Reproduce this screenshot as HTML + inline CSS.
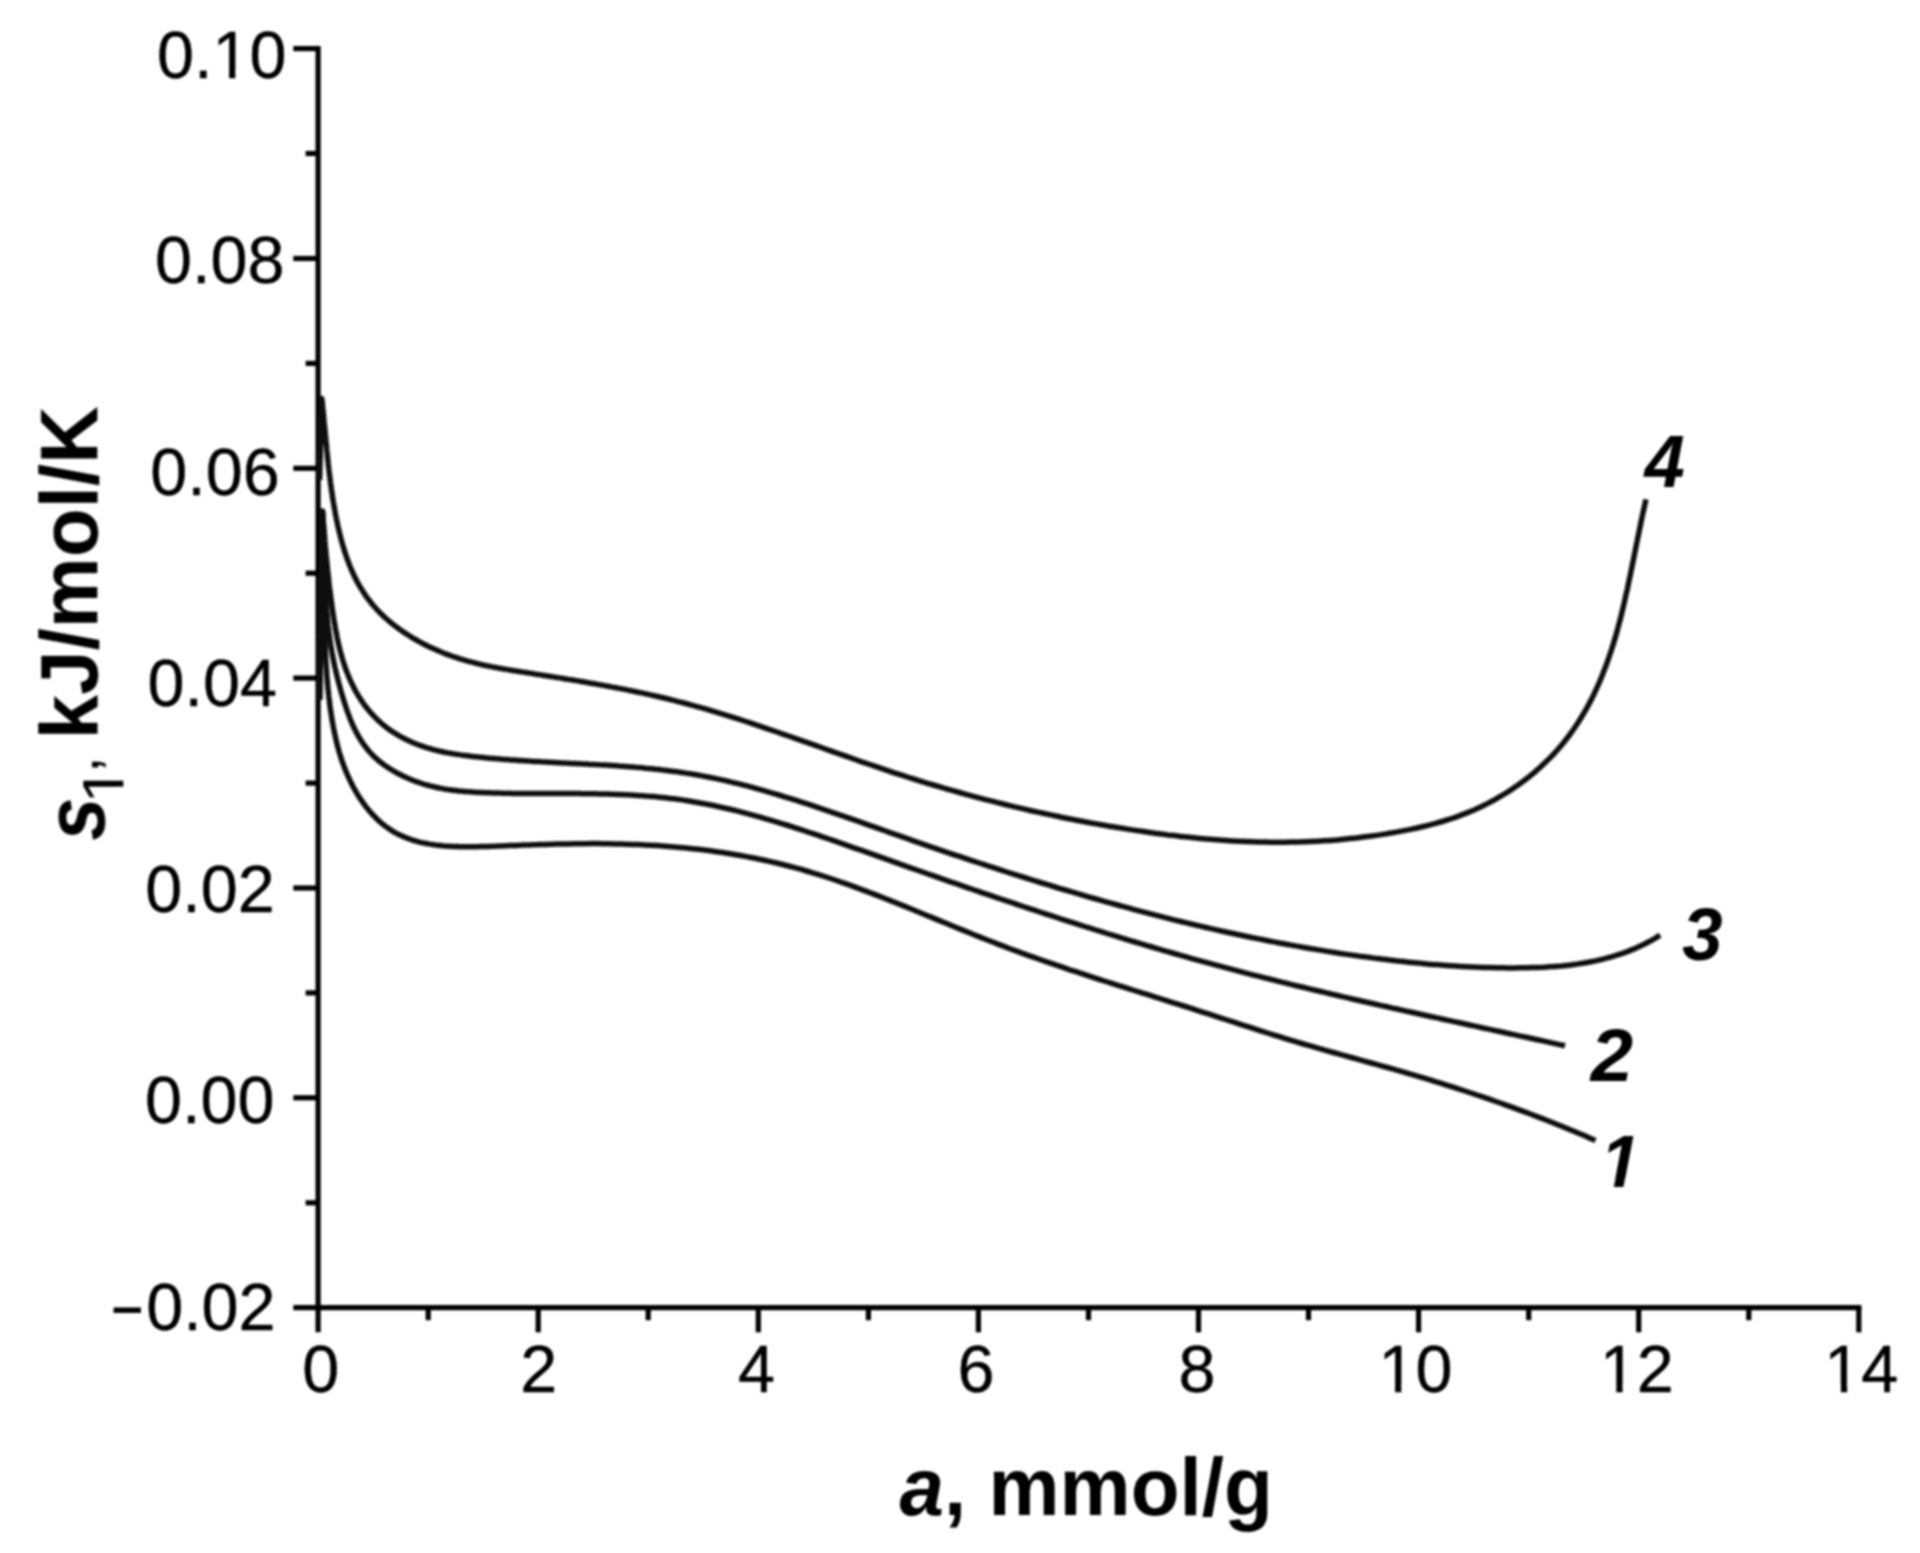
<!DOCTYPE html>
<html lang="en"><head><meta charset="utf-8"><title>s1 vs a</title>
<style>
html,body{margin:0;padding:0;background:#fff;}
body{width:1920px;height:1553px;overflow:hidden;}
svg{display:block;}
text{font-family:"Liberation Sans",sans-serif;fill:#000;font-kerning:none;white-space:pre;}
.tk{font-size:66.5px;stroke:#000;stroke-width:.4px;}
.lb{font-size:72.5px;font-weight:bold;font-style:italic;}
.ax{font-weight:bold;}
.it{font-style:italic;}
.rg{font-weight:normal;}
</style></head><body>
<svg width="1920" height="1553" viewBox="0 0 1920 1553">
<defs><clipPath id="c1y" clipPathUnits="userSpaceOnUse"><path clip-rule="evenodd" d="M-50 -50H2000V1700H-50Z M214.59 70.53H229.05V81.00H214.59Z M235.33 70.53H249.27V81.00H235.33Z"/></clipPath><clipPath id="c1x10" clipPathUnits="userSpaceOnUse"><path clip-rule="evenodd" d="M-50 -50H2000V1700H-50Z M1380.58 1384.83H1395.04V1395.30H1380.58Z M1401.32 1384.83H1415.25V1395.30H1401.32Z"/></clipPath><clipPath id="c1x12" clipPathUnits="userSpaceOnUse"><path clip-rule="evenodd" d="M-50 -50H2000V1700H-50Z M1601.83 1384.83H1616.29V1395.30H1601.83Z M1622.57 1384.83H1636.50V1395.30H1622.57Z"/></clipPath><clipPath id="c1x14" clipPathUnits="userSpaceOnUse"><path clip-rule="evenodd" d="M-50 -50H2000V1700H-50Z M1826.43 1384.83H1840.89V1395.30H1826.43Z M1847.17 1384.83H1861.10V1395.30H1847.17Z"/></clipPath><clipPath id="c1l" clipPathUnits="userSpaceOnUse"><path clip-rule="evenodd" d="M-200 -200H300V200H-200Z M-2.12 2.83 L-2.12 -8.35 L15.26 -8.35 L13.10 2.83Z M22.62 2.83 L24.78 -8.35 L38.94 -8.35 L38.94 2.83Z"/></clipPath><clipPath id="c1s" clipPathUnits="userSpaceOnUse"><path clip-rule="evenodd" d="M-100 -200H700V200H-100Z M1.20 -6.12H13.88V3.00H1.20Z M18.76 -6.12H31.00V3.00H18.76Z"/></clipPath><filter id="soft" filterUnits="userSpaceOnUse" x="0" y="0" width="1920" height="1553"><feGaussianBlur stdDeviation="0.8"/></filter></defs>
<rect width="1920" height="1553" fill="#fff"/>
<g filter="url(#soft)">
<g stroke="#000" stroke-width="5.2" fill="none" stroke-linecap="butt">
<path d="M318.1 46.0 V1332.3"/>
<path d="M293.3 1307.7 H1861.4"/>
<path d="M305.6 1202.8 H318.1"/>
<path d="M293.3 1097.8 H318.1"/>
<path d="M305.6 992.9 H318.1"/>
<path d="M293.3 888.0 H318.1"/>
<path d="M305.6 783.1 H318.1"/>
<path d="M293.3 678.1 H318.1"/>
<path d="M305.6 573.2 H318.1"/>
<path d="M293.3 468.3 H318.1"/>
<path d="M305.6 363.4 H318.1"/>
<path d="M293.3 258.5 H318.1"/>
<path d="M305.6 153.5 H318.1"/>
<path d="M293.3 48.6 H318.1"/>
<path d="M428.2 1307.7 V1320.2"/>
<path d="M538.2 1307.7 V1332.3"/>
<path d="M648.2 1307.7 V1320.2"/>
<path d="M758.3 1307.7 V1332.3"/>
<path d="M868.4 1307.7 V1320.2"/>
<path d="M978.4 1307.7 V1332.3"/>
<path d="M1088.5 1307.7 V1320.2"/>
<path d="M1198.5 1307.7 V1332.3"/>
<path d="M1308.5 1307.7 V1320.2"/>
<path d="M1418.6 1307.7 V1332.3"/>
<path d="M1528.7 1307.7 V1320.2"/>
<path d="M1638.7 1307.7 V1332.3"/>
<path d="M1748.8 1307.7 V1320.2"/>
<path d="M1858.8 1307.7 V1332.3"/>
</g>
<text class="tk" x="286.5" y="78.0" text-anchor="end" clip-path="url(#c1y)">0.10</text>
<text class="tk" x="284.4" y="283.2" text-anchor="end">0.08</text>
<text class="tk" x="279.7" y="494.5" text-anchor="end">0.06</text>
<text class="tk" x="276.9" y="705.8" text-anchor="end">0.04</text>
<text class="tk" x="274.7" y="911.5" text-anchor="end">0.02</text>
<text class="tk" x="274.5" y="1123.4" text-anchor="end">0.00</text>
<text class="tk" transform="translate(111.26 1334.3) scale(0.836 1.08)">−</text>
<text class="tk" x="275.6" y="1330.4" text-anchor="end">0.02</text>
<text class="tk" x="320.7" y="1392.3" text-anchor="middle">0</text>
<text class="tk" x="538.7" y="1392.3" text-anchor="middle">2</text>
<text class="tk" x="756.6" y="1392.3" text-anchor="middle">4</text>
<text class="tk" x="976.0" y="1392.3" text-anchor="middle">6</text>
<text class="tk" x="1197.1" y="1392.3" text-anchor="middle">8</text>
<text class="tk" x="1415.5" y="1392.3" text-anchor="middle" clip-path="url(#c1x10)">10</text>
<text class="tk" x="1636.8" y="1392.3" text-anchor="middle" clip-path="url(#c1x12)">12</text>
<text class="tk" x="1861.3" y="1392.3" text-anchor="middle" clip-path="url(#c1x14)">14</text>
<g stroke="#111" stroke-width="5.5" fill="none" stroke-linecap="butt" stroke-linejoin="round">
<path d="M319.6 700.0 L322.5 511.3 L322.6 514.7 L322.8 517.3 L322.8 518.0 L322.9 521.4 L323.0 523.3 L323.0 524.8 L323.1 528.2 L323.2 529.3 L323.2 531.5 L323.3 534.9 L323.3 535.4 L323.4 538.3 L323.5 541.4 L323.5 541.6 L323.5 545.0 L323.6 547.3 L323.6 548.3 L323.7 551.7 L323.7 553.3 L323.7 555.1 L323.7 558.4 L323.8 559.3 L323.8 561.8 L323.8 565.1 L323.8 565.3 L323.8 568.5 L323.9 571.3 L323.9 571.8 L323.9 575.2 L323.9 577.3 L323.9 578.5 L324.0 581.9 L324.0 583.2 L324.0 585.2 L324.0 588.6 L324.0 589.2 L324.0 591.9 L324.1 595.2 L324.1 595.2 L324.1 598.6 L324.1 601.1 L324.1 601.9 L324.2 605.3 L324.2 607.1 L324.2 608.6 L324.2 612.0 L324.3 613.1 L324.3 615.3 L324.4 618.6 L324.4 619.0 L324.4 622.0 L324.5 625.0 L324.5 625.3 L324.6 628.7 L324.6 630.9 L324.7 632.0 L324.8 635.3 L324.8 636.9 L324.9 638.7 L325.0 642.0 L325.0 642.9 L325.1 645.4 L325.2 648.7 L325.3 648.8 L325.4 652.0 L325.5 654.8 L325.6 655.4 L325.7 658.7 L325.8 660.7 L325.9 662.1 L326.1 665.4 L326.2 666.7 L326.4 668.8 L326.6 672.1 L326.6 672.7 L326.8 675.4 L327.1 678.6 L327.1 678.8 L327.4 682.1 L327.6 684.6 L327.7 685.5 L328.0 688.8 L328.2 690.6 L328.4 692.2 L328.7 695.5 L328.8 696.6 L329.1 698.9 L329.5 702.2 L329.5 702.5 L329.9 705.6 L330.3 708.5 L330.4 708.9 L330.9 712.3 L331.2 714.5 L331.4 715.6 L331.9 719.0 L332.1 720.5 L332.5 722.3 L333.1 725.7 L333.2 726.4 L333.7 729.0 L334.4 732.3 L334.4 732.3 L335.1 735.6 L335.7 738.2 L335.8 738.9 L336.6 742.2 L337.1 744.1 L337.4 745.5 L338.3 748.8 L338.6 749.9 L339.2 752.0 L340.2 755.2 L340.4 755.7 L341.2 758.5 L342.2 761.4 L342.3 761.7 L343.4 764.8 L344.3 767.1 L344.6 768.0 L345.9 771.1 L346.5 772.7 L347.2 774.3 L348.6 777.4 L349.0 778.2 L350.0 780.4 L351.5 783.5 L351.6 783.7 L353.0 786.5 L354.4 789.0 L354.7 789.5 L356.3 792.4 L357.5 794.3 L358.1 795.3 L359.9 798.2 L360.7 799.3 L361.8 800.9 L363.7 803.7 L364.1 804.2 L365.7 806.4 L367.8 808.9 L367.8 809.0 L369.9 811.5 L371.6 813.4 L372.1 814.0 L374.4 816.4 L375.6 817.7 L376.7 818.7 L379.0 820.9 L379.9 821.7 L381.5 823.1 L384.0 825.1 L384.3 825.4 L386.6 827.1 L389.0 828.8 L389.2 828.9 L391.9 830.7 L393.8 831.8 L394.6 832.3 L397.5 833.9 L398.8 834.5 L400.3 835.3 L403.3 836.6 L404.1 836.9 L406.3 837.8 L409.3 838.9 L409.4 839.0 L412.4 840.0 L415.0 840.8 L415.5 840.9 L418.7 841.8 L420.7 842.3 L421.9 842.6 L425.2 843.2 L426.5 843.5 L428.5 843.9 L431.8 844.4 L432.5 844.5 L435.2 844.9 L438.5 845.3 L438.6 845.3 L442.0 845.7 L444.6 845.9 L445.5 846.0 L449.0 846.2 L450.8 846.3 L452.5 846.4 L456.0 846.6 L457.1 846.6 L459.5 846.7 L463.0 846.8 L463.4 846.8 L466.6 846.8 L469.7 846.8 L470.1 846.8 L473.7 846.8 L476.1 846.7 L477.2 846.7 L480.8 846.6 L482.4 846.6 L484.4 846.5 L487.9 846.4 L488.8 846.4 L491.5 846.3 L495.0 846.2 L495.1 846.2 L498.5 846.0 L501.3 845.9 L502.0 845.9 L505.5 845.8 L507.6 845.7 L509.0 845.6 L512.5 845.5 L513.7 845.5 L515.9 845.4 L519.3 845.2 L519.9 845.2 L522.8 845.1 L526.0 845.0 L526.2 845.0 L529.6 844.9 L532.0 844.8 L533.0 844.8 L536.3 844.7 L538.1 844.6 L539.7 844.6 L543.1 844.5 L544.1 844.4 L546.4 844.4 L549.8 844.3 L550.0 844.3 L553.1 844.2 L556.0 844.1 L561.9 844.0 L567.8 843.9 L573.7 843.8 L579.6 843.7 L585.5 843.7 L591.4 843.6 L597.3 843.6 L603.2 843.7 L609.1 843.8 L615.0 843.9 L621.0 844.0 L626.9 844.2 L632.8 844.4 L638.8 844.6 L644.7 844.9 L650.7 845.2 L656.6 845.6 L662.6 846.0 L668.6 846.4 L674.6 846.9 L680.5 847.5 L686.5 848.0 L692.5 848.7 L698.5 849.3 L704.5 850.1 L710.5 850.8 L716.5 851.7 L722.5 852.5 L728.5 853.5 L734.5 854.5 L740.5 855.5 L746.5 856.6 L752.5 857.8 L758.5 859.0 L764.5 860.2 L770.6 861.6 L776.6 863.0 L782.6 864.5 L788.6 866.0 L794.6 867.6 L800.6 869.2 L806.6 871.0 L812.6 872.8 L818.6 874.6 L824.6 876.5 L830.6 878.5 L836.5 880.5 L842.5 882.6 L848.5 884.7 L854.5 886.9 L860.5 889.1 L866.5 891.3 L872.5 893.6 L878.4 895.9 L884.4 898.3 L890.4 900.6 L896.4 903.0 L902.4 905.4 L908.3 907.8 L914.3 910.3 L920.3 912.7 L926.3 915.2 L932.3 917.6 L938.2 920.1 L944.2 922.5 L950.2 925.0 L956.2 927.5 L962.2 929.9 L968.1 932.3 L974.1 934.7 L980.1 937.1 L986.1 939.5 L992.1 941.8 L998.0 944.1 L1004.0 946.4 L1010.0 948.7 L1016.0 950.9 L1022.0 953.1 L1028.0 955.3 L1034.0 957.4 L1040.0 959.5 L1046.0 961.6 L1052.0 963.7 L1058.0 965.7 L1063.9 967.7 L1069.9 969.8 L1075.9 971.7 L1081.9 973.7 L1087.9 975.7 L1093.9 977.6 L1099.9 979.6 L1105.9 981.5 L1111.9 983.4 L1117.9 985.3 L1123.9 987.2 L1129.9 989.1 L1135.9 991.0 L1141.9 992.9 L1147.9 994.7 L1153.8 996.6 L1159.8 998.5 L1165.8 1000.4 L1171.8 1002.3 L1177.8 1004.2 L1183.8 1006.0 L1189.8 1007.9 L1195.7 1009.9 L1201.7 1011.8 L1207.7 1013.7 L1213.7 1015.6 L1219.6 1017.6 L1225.6 1019.5 L1231.6 1021.4 L1237.6 1023.4 L1243.5 1025.3 L1249.5 1027.2 L1255.5 1029.2 L1261.5 1031.1 L1267.4 1033.0 L1273.4 1034.8 L1279.4 1036.7 L1285.4 1038.6 L1291.4 1040.4 L1297.4 1042.2 L1303.4 1044.0 L1309.4 1045.7 L1315.4 1047.4 L1321.4 1049.1 L1327.4 1050.8 L1333.4 1052.5 L1339.4 1054.2 L1345.4 1055.8 L1351.4 1057.5 L1357.4 1059.1 L1363.4 1060.8 L1369.4 1062.5 L1375.4 1064.1 L1381.4 1065.8 L1387.4 1067.5 L1393.4 1069.2 L1399.4 1070.9 L1405.4 1072.6 L1411.4 1074.4 L1417.4 1076.1 L1423.4 1077.9 L1429.4 1079.7 L1435.4 1081.6 L1441.3 1083.4 L1447.3 1085.3 L1453.2 1087.2 L1459.2 1089.1 L1465.1 1091.0 L1471.0 1093.0 L1476.9 1095.0 L1482.8 1096.9 L1488.6 1098.9 L1494.5 1101.0 L1500.3 1103.0 L1506.1 1105.1 L1511.9 1107.2 L1517.7 1109.3 L1523.4 1111.4 L1529.1 1113.5 L1534.8 1115.7 L1540.5 1117.8 L1546.1 1120.0 L1551.7 1122.2 L1557.3 1124.5 L1562.9 1126.7 L1568.4 1129.0 L1573.9 1131.2 L1579.3 1133.5 L1584.8 1135.8 L1590.1 1138.2 L1595.5 1140.5"/>
<path d="M319.6 700.0 L322.5 511.3 L322.7 514.6 L322.9 516.9 L322.9 518.0 L323.1 521.3 L323.2 522.4 L323.3 524.7 L323.5 528.0 L323.5 528.0 L323.6 531.4 L323.7 533.6 L323.8 534.7 L323.9 538.1 L323.9 539.2 L324.0 541.4 L324.1 544.8 L324.1 544.8 L324.2 548.2 L324.3 550.4 L324.3 551.5 L324.4 554.9 L324.4 556.0 L324.5 558.2 L324.6 561.6 L324.6 561.6 L324.7 565.0 L324.7 567.2 L324.8 568.3 L324.9 571.7 L324.9 572.8 L325.0 575.0 L325.1 578.4 L325.1 578.4 L325.2 581.7 L325.3 584.0 L325.3 585.1 L325.4 588.5 L325.5 589.6 L325.6 591.8 L325.7 595.2 L325.8 595.2 L325.9 598.5 L326.1 600.8 L326.1 601.9 L326.3 605.2 L326.4 606.4 L326.6 608.6 L326.8 611.9 L326.8 611.9 L327.1 615.2 L327.3 617.5 L327.4 618.6 L327.7 621.9 L327.8 623.1 L328.0 625.2 L328.4 628.6 L328.4 628.6 L328.8 631.9 L329.1 634.2 L329.2 635.2 L329.7 638.5 L329.9 639.7 L330.2 641.9 L330.7 645.2 L330.7 645.2 L331.3 648.5 L331.7 650.7 L331.8 651.8 L332.5 655.1 L332.7 656.2 L333.1 658.4 L333.8 661.7 L333.8 661.7 L334.4 664.9 L334.9 667.2 L335.2 668.2 L335.9 671.5 L336.2 672.6 L336.7 674.8 L337.5 678.0 L337.5 678.1 L338.3 681.3 L338.9 683.5 L339.2 684.5 L340.0 687.8 L340.4 688.9 L340.9 691.0 L341.9 694.2 L341.9 694.3 L342.8 697.4 L343.5 699.6 L343.8 700.6 L344.8 703.8 L345.2 705.0 L345.9 707.0 L346.9 710.2 L347.0 710.3 L348.1 713.4 L348.9 715.5 L349.2 716.5 L350.4 719.6 L350.9 720.7 L351.7 722.7 L353.1 725.8 L353.1 725.8 L354.5 728.8 L355.5 730.8 L356.0 731.8 L357.6 734.7 L358.1 735.7 L359.2 737.6 L361.0 740.4 L361.0 740.5 L362.8 743.2 L364.2 745.1 L364.8 745.9 L366.9 748.6 L367.6 749.6 L369.0 751.2 L371.3 753.8 L371.4 753.8 L373.8 756.3 L375.5 757.9 L376.3 758.7 L379.0 761.0 L380.0 761.8 L381.9 763.2 L384.8 765.4 L384.9 765.5 L387.9 767.5 L390.1 768.9 L391.1 769.5 L394.3 771.4 L395.5 772.1 L397.6 773.3 L401.0 775.0 L401.1 775.1 L404.5 776.7 L406.9 777.8 L407.9 778.2 L411.4 779.7 L412.7 780.2 L414.9 781.1 L418.4 782.3 L418.5 782.4 L421.9 783.5 L424.3 784.3 L425.4 784.6 L428.8 785.5 L430.1 785.9 L432.3 786.4 L435.7 787.2 L435.8 787.3 L439.1 788.0 L441.5 788.4 L442.5 788.6 L445.9 789.2 L447.1 789.4 L449.3 789.7 L452.7 790.2 L452.8 790.2 L456.0 790.6 L458.4 790.9 L459.4 791.0 L462.8 791.3 L464.0 791.4 L466.1 791.6 L469.4 791.8 L469.6 791.8 L472.8 792.0 L475.1 792.2 L476.1 792.2 L479.5 792.4 L480.7 792.4 L482.8 792.5 L486.2 792.7 L486.3 792.7 L489.5 792.8 L491.8 792.9 L492.9 792.9 L496.2 793.0 L497.4 793.0 L499.5 793.1 L502.9 793.2 L503.0 793.2 L506.2 793.3 L508.6 793.3 L509.6 793.3 L512.9 793.4 L514.2 793.4 L516.3 793.4 L519.6 793.4 L519.7 793.4 L523.0 793.5 L525.3 793.5 L526.3 793.5 L529.7 793.5 L530.9 793.5 L533.0 793.5 L536.4 793.5 L536.5 793.5 L539.7 793.6 L542.1 793.6 L543.1 793.6 L546.4 793.6 L547.7 793.6 L549.8 793.6 L553.1 793.6 L553.2 793.6 L556.5 793.6 L558.8 793.6 L559.8 793.6 L563.2 793.6 L564.4 793.6 L566.5 793.6 L569.9 793.6 L570.0 793.6 L573.2 793.6 L575.6 793.6 L576.6 793.6 L579.9 793.6 L581.2 793.7 L583.3 793.7 L586.6 793.7 L586.8 793.7 L590.0 793.7 L592.4 793.8 L593.3 793.8 L596.7 793.8 L597.9 793.9 L600.0 793.9 L603.4 794.0 L603.5 794.0 L606.7 794.1 L609.1 794.1 L610.1 794.2 L613.5 794.3 L614.7 794.3 L616.8 794.4 L620.3 794.5 L625.9 794.8 L631.5 795.0 L637.1 795.4 L642.7 795.7 L648.3 796.2 L653.9 796.6 L659.5 797.2 L665.1 797.8 L670.7 798.4 L676.3 799.1 L681.9 799.9 L687.5 800.8 L693.1 801.7 L698.7 802.7 L704.3 803.7 L709.9 804.8 L715.5 806.0 L721.1 807.2 L726.7 808.5 L732.3 809.8 L737.9 811.2 L743.5 812.6 L749.1 814.1 L754.7 815.6 L760.2 817.2 L765.8 818.8 L771.4 820.4 L777.0 822.1 L782.6 823.8 L788.2 825.5 L793.8 827.3 L799.4 829.1 L805.0 831.0 L810.6 832.8 L816.2 834.7 L821.8 836.6 L827.4 838.5 L833.0 840.4 L838.6 842.4 L844.2 844.3 L849.8 846.3 L855.4 848.3 L861.0 850.2 L866.6 852.2 L872.2 854.2 L877.8 856.2 L883.4 858.2 L889.0 860.2 L894.5 862.2 L900.1 864.1 L905.7 866.1 L911.3 868.1 L916.9 870.0 L922.5 872.0 L928.1 874.0 L933.7 875.9 L939.3 877.9 L944.9 879.8 L950.5 881.8 L956.1 883.7 L961.6 885.6 L967.2 887.6 L972.8 889.5 L978.4 891.4 L984.0 893.3 L989.6 895.2 L995.2 897.1 L1000.8 899.0 L1006.4 900.9 L1012.0 902.7 L1017.5 904.6 L1023.1 906.5 L1028.7 908.3 L1034.3 910.2 L1039.9 912.0 L1045.5 913.9 L1051.1 915.7 L1056.7 917.5 L1062.3 919.3 L1067.9 921.1 L1073.5 922.9 L1079.0 924.7 L1084.6 926.5 L1090.2 928.2 L1095.8 930.0 L1101.4 931.7 L1107.0 933.5 L1112.6 935.2 L1118.2 936.9 L1123.8 938.6 L1129.4 940.3 L1135.0 942.0 L1140.6 943.7 L1146.2 945.4 L1151.8 947.0 L1157.4 948.7 L1163.0 950.3 L1168.6 951.9 L1174.2 953.5 L1179.8 955.1 L1185.4 956.7 L1191.0 958.3 L1196.6 959.8 L1202.2 961.4 L1207.8 962.9 L1213.4 964.4 L1219.0 965.9 L1224.6 967.4 L1230.2 968.9 L1235.8 970.4 L1241.4 971.9 L1247.0 973.3 L1252.6 974.8 L1258.2 976.2 L1263.8 977.6 L1269.4 979.0 L1275.0 980.4 L1280.6 981.8 L1286.2 983.2 L1291.8 984.6 L1297.4 986.0 L1303.0 987.3 L1308.6 988.7 L1314.2 990.0 L1319.9 991.3 L1325.5 992.7 L1331.1 994.0 L1336.7 995.3 L1342.3 996.6 L1347.9 997.9 L1353.5 999.2 L1359.1 1000.5 L1364.6 1001.8 L1370.2 1003.0 L1375.8 1004.3 L1381.4 1005.6 L1387.0 1006.8 L1392.6 1008.1 L1398.2 1009.3 L1403.8 1010.6 L1409.4 1011.8 L1415.0 1013.0 L1420.5 1014.3 L1426.1 1015.5 L1431.7 1016.7 L1437.3 1017.9 L1442.9 1019.2 L1448.4 1020.4 L1454.0 1021.6 L1459.6 1022.8 L1465.2 1024.0 L1470.7 1025.2 L1476.3 1026.4 L1481.9 1027.7 L1487.4 1028.9 L1493.0 1030.1 L1498.5 1031.3 L1504.1 1032.5 L1509.6 1033.7 L1515.2 1034.9 L1520.7 1036.1 L1526.3 1037.3 L1531.8 1038.5 L1537.4 1039.7 L1542.9 1040.9 L1548.4 1042.1 L1554.0 1043.4 L1559.5 1044.6 L1565.0 1045.8"/>
<path d="M319.6 700.0 L322.5 511.3 L322.8 514.7 L323.0 517.1 L323.0 518.0 L323.3 521.4 L323.4 523.0 L323.6 524.7 L323.8 528.1 L323.9 528.8 L324.1 531.4 L324.4 534.6 L324.4 534.8 L324.7 538.1 L324.8 540.4 L324.9 541.5 L325.2 544.8 L325.3 546.2 L325.5 548.1 L325.8 551.5 L325.9 552.0 L326.1 554.8 L326.4 557.8 L326.4 558.1 L326.8 561.5 L327.0 563.6 L327.1 564.8 L327.4 568.1 L327.5 569.4 L327.8 571.4 L328.1 574.7 L328.2 575.1 L328.5 578.1 L328.8 580.9 L328.8 581.4 L329.2 584.7 L329.5 586.7 L329.6 588.0 L330.0 591.3 L330.2 592.5 L330.4 594.7 L330.9 598.0 L330.9 598.2 L331.3 601.3 L331.7 604.0 L331.8 604.6 L332.2 607.9 L332.5 609.8 L332.7 611.3 L333.2 614.6 L333.3 615.5 L333.7 617.9 L334.2 621.2 L334.2 621.3 L334.8 624.6 L335.2 627.1 L335.3 627.9 L335.9 631.2 L336.3 632.8 L336.6 634.5 L337.2 637.8 L337.4 638.6 L337.9 641.1 L338.6 644.3 L338.6 644.4 L339.4 647.7 L340.0 650.0 L340.2 650.9 L341.1 654.2 L341.5 655.6 L342.0 657.4 L342.9 660.6 L343.1 661.2 L344.0 663.8 L344.9 666.8 L345.0 667.0 L346.2 670.2 L346.9 672.3 L347.3 673.3 L348.6 676.4 L349.1 677.7 L349.9 679.5 L351.3 682.6 L351.5 683.0 L352.8 685.6 L354.1 688.3 L354.3 688.6 L355.9 691.6 L357.0 693.4 L357.6 694.5 L359.4 697.4 L360.0 698.4 L361.2 700.2 L363.1 703.0 L363.3 703.3 L365.1 705.8 L366.8 708.0 L367.2 708.4 L369.4 711.1 L370.6 712.5 L371.6 713.6 L373.9 716.1 L374.6 716.9 L376.3 718.6 L378.8 720.9 L378.9 721.1 L381.3 723.2 L383.4 725.0 L384.0 725.5 L386.7 727.6 L388.2 728.7 L389.5 729.7 L392.4 731.6 L393.2 732.1 L395.4 733.5 L398.4 735.4 L398.4 735.4 L401.5 737.1 L403.8 738.3 L404.6 738.8 L407.8 740.3 L409.3 741.0 L411.0 741.8 L414.3 743.2 L415.0 743.5 L417.6 744.5 L420.7 745.7 L420.9 745.7 L424.2 746.9 L426.5 747.6 L427.6 747.9 L431.0 748.9 L432.4 749.3 L434.4 749.9 L437.8 750.7 L438.4 750.8 L441.3 751.5 L444.4 752.2 L444.7 752.2 L448.2 752.9 L450.4 753.3 L451.7 753.5 L455.2 754.1 L456.5 754.3 L458.7 754.6 L462.2 755.1 L462.6 755.2 L465.7 755.6 L468.7 756.0 L469.2 756.0 L472.7 756.4 L474.8 756.7 L476.2 756.8 L479.7 757.2 L480.8 757.3 L483.2 757.5 L486.7 757.9 L486.9 757.9 L490.1 758.2 L492.9 758.5 L493.6 758.5 L497.1 758.8 L499.0 759.0 L500.5 759.1 L504.0 759.4 L505.0 759.4 L507.4 759.6 L510.9 759.9 L511.0 759.9 L514.3 760.1 L516.9 760.3 L517.8 760.4 L521.2 760.6 L522.9 760.7 L524.6 760.8 L528.0 761.0 L528.8 761.1 L531.4 761.2 L534.7 761.4 L534.8 761.4 L538.2 761.6 L540.7 761.7 L541.6 761.8 L545.0 762.0 L546.6 762.1 L548.4 762.2 L551.8 762.3 L552.4 762.4 L555.2 762.5 L558.3 762.7 L558.6 762.7 L561.9 762.9 L564.2 763.0 L565.3 763.0 L568.7 763.2 L570.0 763.3 L572.1 763.4 L575.4 763.5 L575.9 763.5 L578.8 763.7 L581.7 763.8 L582.1 763.9 L585.5 764.0 L587.6 764.1 L588.8 764.2 L592.2 764.4 L593.4 764.4 L595.5 764.6 L598.9 764.7 L599.2 764.8 L602.2 764.9 L605.0 765.1 L605.6 765.1 L608.9 765.3 L610.8 765.5 L612.2 765.6 L615.6 765.8 L616.6 765.8 L618.9 766.0 L622.2 766.2 L622.4 766.2 L625.6 766.5 L628.2 766.7 L628.9 766.7 L632.2 767.0 L633.9 767.1 L635.5 767.3 L638.9 767.5 L639.7 767.6 L642.2 767.8 L645.5 768.2 L645.5 768.2 L648.8 768.5 L651.3 768.7 L652.2 768.8 L655.5 769.2 L657.0 769.3 L662.8 770.0 L668.6 770.7 L674.4 771.4 L680.1 772.3 L685.9 773.1 L691.7 774.0 L697.5 775.0 L703.3 776.1 L709.1 777.2 L714.9 778.4 L720.7 779.6 L726.5 780.9 L732.3 782.3 L738.1 783.7 L743.9 785.2 L749.8 786.7 L755.6 788.3 L761.4 789.9 L767.2 791.6 L773.1 793.3 L778.9 795.0 L784.7 796.8 L790.6 798.6 L796.4 800.4 L802.3 802.3 L808.1 804.2 L813.9 806.1 L819.8 808.1 L825.6 810.1 L831.5 812.1 L837.3 814.1 L843.2 816.1 L849.0 818.1 L854.9 820.2 L860.7 822.2 L866.6 824.3 L872.5 826.4 L878.3 828.4 L884.2 830.5 L890.0 832.6 L895.9 834.6 L901.7 836.7 L907.6 838.7 L913.4 840.8 L919.3 842.8 L925.1 844.8 L930.9 846.8 L936.8 848.8 L942.6 850.8 L948.5 852.8 L954.3 854.8 L960.2 856.7 L966.0 858.7 L971.8 860.6 L977.7 862.5 L983.5 864.4 L989.4 866.4 L995.2 868.2 L1001.0 870.1 L1006.9 872.0 L1012.7 873.9 L1018.5 875.7 L1024.4 877.5 L1030.2 879.3 L1036.0 881.2 L1041.9 883.0 L1047.7 884.7 L1053.5 886.5 L1059.4 888.3 L1065.2 890.0 L1071.0 891.7 L1076.9 893.4 L1082.7 895.1 L1088.5 896.8 L1094.4 898.5 L1100.2 900.1 L1106.0 901.8 L1111.8 903.4 L1117.7 905.0 L1123.5 906.6 L1129.3 908.2 L1135.2 909.8 L1141.0 911.3 L1146.8 912.8 L1152.6 914.4 L1158.5 915.9 L1164.3 917.3 L1170.1 918.8 L1175.9 920.3 L1181.8 921.7 L1187.6 923.1 L1193.4 924.5 L1199.2 925.9 L1205.1 927.2 L1210.9 928.6 L1216.7 929.9 L1222.5 931.2 L1228.4 932.5 L1234.2 933.8 L1240.0 935.0 L1245.8 936.2 L1251.7 937.5 L1257.5 938.6 L1263.3 939.8 L1269.1 941.0 L1275.0 942.1 L1280.8 943.2 L1286.6 944.3 L1292.4 945.4 L1298.3 946.4 L1304.1 947.5 L1309.9 948.5 L1315.7 949.4 L1321.6 950.4 L1327.4 951.4 L1333.2 952.3 L1339.0 953.2 L1344.9 954.1 L1350.7 954.9 L1356.5 955.7 L1362.4 956.6 L1368.2 957.3 L1374.0 958.1 L1379.8 958.8 L1385.7 959.6 L1391.5 960.3 L1397.3 960.9 L1403.2 961.6 L1409.0 962.2 L1414.8 962.8 L1420.7 963.3 L1426.5 963.9 L1432.3 964.4 L1438.2 964.8 L1444.0 965.3 L1449.9 965.7 L1455.7 966.1 L1461.5 966.4 L1467.4 966.7 L1473.2 967.0 L1479.1 967.2 L1484.9 967.4 L1490.8 967.6 L1496.6 967.7 L1502.5 967.8 L1508.3 967.9 L1514.2 967.9 L1520.1 967.8 L1525.9 967.7 L1531.8 967.6 L1537.6 967.4 L1543.5 967.2 L1549.3 966.8 L1555.1 966.4 L1561.0 966.0 L1566.7 965.4 L1572.5 964.7 L1578.3 963.9 L1584.0 963.0 L1589.7 962.0 L1595.4 960.9 L1601.0 959.6 L1606.6 958.2 L1612.2 956.6 L1617.7 954.9 L1623.2 953.1 L1628.6 951.1 L1634.0 948.9 L1639.3 946.5 L1644.6 944.0 L1649.8 941.3 L1655.0 938.3 L1660.1 935.2"/>
<path d="M319.6 480.0 L321.8 398.5 L322.2 401.8 L322.5 404.9 L322.5 405.1 L322.8 408.4 L323.1 411.3 L323.2 411.7 L323.5 415.0 L323.8 417.8 L323.8 418.4 L324.1 421.7 L324.4 424.3 L324.5 425.0 L324.8 428.4 L325.0 430.7 L325.1 431.7 L325.4 435.1 L325.6 437.2 L325.7 438.4 L326.0 441.8 L326.2 443.7 L326.4 445.1 L326.7 448.5 L326.9 450.3 L327.0 451.8 L327.4 455.2 L327.5 456.8 L327.7 458.6 L328.1 461.9 L328.2 463.3 L328.4 465.3 L328.8 468.6 L328.9 469.8 L329.2 472.0 L329.6 475.3 L329.7 476.3 L330.0 478.7 L330.4 482.0 L330.5 482.8 L330.9 485.4 L331.3 488.7 L331.4 489.3 L331.8 492.0 L332.3 495.4 L332.3 495.7 L332.8 498.7 L333.3 502.0 L333.4 502.2 L333.9 505.3 L334.5 508.6 L334.5 508.6 L335.1 511.9 L335.6 515.0 L335.7 515.2 L336.3 518.5 L336.9 521.4 L337.0 521.7 L337.7 525.0 L338.3 527.7 L338.4 528.3 L339.2 531.5 L339.8 534.0 L340.0 534.7 L340.8 538.0 L341.4 540.2 L341.7 541.2 L342.5 544.4 L343.1 546.4 L343.5 547.6 L344.4 550.7 L345.0 552.6 L345.5 553.9 L346.5 557.0 L347.1 558.7 L347.6 560.1 L348.8 563.2 L349.4 564.7 L350.0 566.3 L351.3 569.4 L351.8 570.6 L352.6 572.4 L354.0 575.4 L354.5 576.5 L355.5 578.4 L357.0 581.4 L357.5 582.2 L358.6 584.3 L360.3 587.2 L360.7 587.9 L362.1 590.1 L363.9 593.0 L364.2 593.4 L365.8 595.8 L367.8 598.6 L368.1 598.9 L369.9 601.3 L372.1 604.0 L372.2 604.2 L374.4 606.7 L376.7 609.3 L376.7 609.3 L379.2 612.0 L381.6 614.4 L381.8 614.5 L384.4 617.0 L386.9 619.2 L387.2 619.5 L390.1 622.0 L392.5 623.9 L393.0 624.4 L396.1 626.7 L398.4 628.5 L399.2 629.0 L402.4 631.2 L404.6 632.8 L405.6 633.4 L408.9 635.5 L411.0 636.8 L412.2 637.6 L415.5 639.5 L417.5 640.7 L418.9 641.4 L422.3 643.3 L424.1 644.2 L425.7 645.0 L429.1 646.7 L430.7 647.4 L432.5 648.3 L436.0 649.8 L437.4 650.4 L439.4 651.3 L442.9 652.7 L444.1 653.2 L446.3 654.1 L449.8 655.3 L450.8 655.7 L453.2 656.6 L456.7 657.7 L457.5 658.0 L460.1 658.8 L463.6 659.9 L464.2 660.1 L467.0 660.9 L470.4 661.8 L470.8 661.9 L473.9 662.7 L477.3 663.6 L477.5 663.6 L480.7 664.4 L484.1 665.2 L484.1 665.2 L487.5 665.9 L490.6 666.5 L490.8 666.6 L494.2 667.2 L497.2 667.8 L497.6 667.9 L500.9 668.5 L503.6 669.0 L504.2 669.1 L507.6 669.6 L510.1 670.0 L510.9 670.2 L514.3 670.7 L516.6 671.1 L517.6 671.2 L520.9 671.8 L523.1 672.1 L524.2 672.3 L527.6 672.8 L529.5 673.1 L530.9 673.3 L534.3 673.9 L536.0 674.2 L537.6 674.4 L540.9 674.9 L542.5 675.2 L544.3 675.5 L547.6 676.0 L549.0 676.2 L551.0 676.5 L554.3 677.1 L555.5 677.3 L557.7 677.6 L561.0 678.1 L562.0 678.3 L564.4 678.7 L567.7 679.2 L568.5 679.4 L571.1 679.8 L574.4 680.3 L575.0 680.4 L577.8 680.9 L581.1 681.5 L581.5 681.5 L584.5 682.0 L587.8 682.6 L588.0 682.7 L591.2 683.2 L594.5 683.8 L594.5 683.8 L597.9 684.4 L601.1 685.0 L601.3 685.0 L604.6 685.6 L607.6 686.2 L608.0 686.2 L611.3 686.9 L614.1 687.4 L614.7 687.5 L618.1 688.1 L620.6 688.6 L621.4 688.8 L624.8 689.4 L627.1 689.9 L628.1 690.1 L631.5 690.8 L633.7 691.2 L634.9 691.5 L638.2 692.2 L640.2 692.6 L641.6 692.9 L644.9 693.6 L646.7 694.0 L648.3 694.4 L651.7 695.1 L653.2 695.5 L659.8 697.0 L666.3 698.5 L672.8 700.1 L679.3 701.8 L685.9 703.5 L692.4 705.3 L698.9 707.1 L705.4 708.9 L711.9 710.9 L718.5 712.8 L725.0 714.8 L731.5 716.9 L738.0 718.9 L744.5 721.0 L751.0 723.2 L757.5 725.4 L764.0 727.6 L770.6 729.8 L777.1 732.0 L783.6 734.3 L790.1 736.5 L796.6 738.8 L803.1 741.1 L809.6 743.4 L816.1 745.7 L822.6 748.0 L829.1 750.3 L835.6 752.6 L842.1 754.9 L848.7 757.2 L855.2 759.5 L861.7 761.8 L868.2 764.0 L874.7 766.2 L881.2 768.4 L887.7 770.6 L894.2 772.8 L900.8 774.9 L907.3 777.0 L913.8 779.0 L920.3 781.1 L926.8 783.1 L933.3 785.0 L939.9 786.9 L946.4 788.8 L952.9 790.7 L959.4 792.5 L966.0 794.3 L972.5 796.1 L979.0 797.9 L985.5 799.6 L992.0 801.2 L998.6 802.9 L1005.1 804.5 L1011.6 806.1 L1018.1 807.6 L1024.7 809.2 L1031.2 810.7 L1037.7 812.1 L1044.2 813.5 L1050.7 814.9 L1057.2 816.3 L1063.8 817.7 L1070.3 819.0 L1076.8 820.2 L1083.3 821.5 L1089.8 822.7 L1096.3 823.9 L1102.8 825.0 L1109.4 826.2 L1115.9 827.3 L1122.4 828.3 L1128.9 829.4 L1135.4 830.4 L1141.9 831.3 L1148.4 832.3 L1154.9 833.2 L1161.4 834.0 L1167.9 834.9 L1174.4 835.6 L1180.9 836.4 L1187.3 837.1 L1193.8 837.8 L1200.3 838.4 L1206.8 839.0 L1213.3 839.5 L1219.8 840.0 L1226.3 840.5 L1232.8 840.9 L1239.3 841.2 L1245.8 841.5 L1252.3 841.8 L1258.8 842.0 L1265.3 842.1 L1271.8 842.2 L1278.3 842.2 L1284.9 842.2 L1291.4 842.1 L1297.9 842.0 L1304.4 841.8 L1310.9 841.5 L1317.5 841.2 L1324.0 840.8 L1330.5 840.4 L1337.1 839.9 L1343.6 839.3 L1350.1 838.6 L1356.7 837.9 L1363.2 837.1 L1369.8 836.3 L1376.4 835.4 L1382.9 834.4 L1389.5 833.3 L1396.1 832.1 L1402.6 830.9 L1409.2 829.6 L1415.8 828.2 L1422.4 826.7 L1429.0 825.1 L1435.5 823.4 L1442.1 821.5 L1448.6 819.5 L1455.2 817.3 L1461.7 814.9 L1468.1 812.4 L1474.6 809.7 L1481.0 806.8 L1487.4 803.6 L1493.7 800.3 L1499.9 796.7 L1506.1 793.0 L1512.2 789.1 L1518.1 785.0 L1523.9 780.8 L1529.6 776.4 L1535.0 771.9 L1540.2 767.3 L1545.2 762.6 L1550.0 757.9 L1554.7 753.0 L1559.1 748.0 L1563.3 742.9 L1567.4 737.8 L1571.3 732.5 L1575.0 727.2 L1578.6 721.8 L1582.0 716.3 L1585.3 710.7 L1588.4 705.1 L1591.4 699.4 L1594.2 693.7 L1596.9 687.8 L1599.5 682.0 L1602.0 676.0 L1604.3 670.0 L1606.6 664.0 L1608.7 657.9 L1610.8 651.8 L1612.8 645.6 L1614.7 639.4 L1616.5 633.2 L1618.2 626.9 L1619.9 620.6 L1621.5 614.3 L1623.0 607.9 L1624.5 601.6 L1625.9 595.2 L1627.4 588.8 L1628.7 582.4 L1630.1 575.9 L1631.4 569.5 L1632.7 563.1 L1634.0 556.7 L1635.3 550.2 L1636.6 543.8 L1637.9 537.4 L1639.2 531.0 L1640.5 524.6 L1641.8 518.3 L1643.2 511.9 L1644.6 505.6 L1646.0 499.3"/>
</g>
<g transform="translate(1644.50 486.50) scale(1.000 1.030)"><text class="lb" x="0" y="0">4</text></g>
<g transform="translate(1682.20 959.90) scale(1.000 1.030)"><text class="lb" x="0" y="0">3</text></g>
<g transform="translate(1590.75 1080.70) scale(1.050 1.030)"><text class="lb" x="0" y="0">2</text></g>
<g transform="translate(1600.30 1186.70) scale(1.000 1.030)"><text class="lb" x="0" y="0" clip-path="url(#c1l)">1</text></g>
<g transform="translate(899.5 1515.3) scale(1 1.025)"><text class="ax" font-size="80" x="0" y="0"><tspan class="it">a</tspan>, mmol/g</text></g>
<g transform="translate(97.3 839.85) rotate(-90)">
<g transform="translate(-0.87 6.5) scale(1 1.10)"><text class="ax it" font-size="77.5" x="0" y="0">s</text></g>
<g transform="translate(36.05 26.05) scale(1.234 1.025)"><text class="rg" font-size="55.2" x="0" y="0" clip-path="url(#c1s)">1</text></g>
<g transform="translate(66.72 0.8) scale(1.070 1.025)"><text class="rg" font-size="57.0" x="0" y="0">, </text></g>
<g transform="translate(100.41 0) scale(1 1.025)"><text class="ax" font-size="80.0" x="0" y="0">kJ/mol/K</text></g>
</g>
</g>
</svg></body></html>
